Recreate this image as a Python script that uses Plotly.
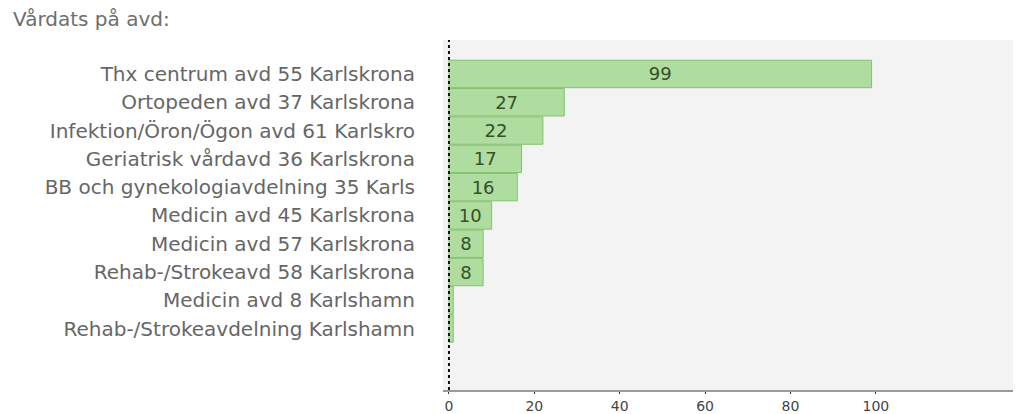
import plotly.graph_objects as go

avdelningar = [
    "Thx centrum avd 55 Karlskrona",
    "Ortopeden avd 37 Karlskrona",
    "Infektion/Öron/Ögon avd 61 Karlskro",
    "Geriatrisk vårdavd 36 Karlskrona",
    "BB och gynekologiavdelning 35 Karls",
    "Medicin avd 45 Karlskrona",
    "Medicin avd 57 Karlskrona",
    "Rehab-/Strokeavd 58 Karlskrona",
    "Medicin avd 8 Karlshamn",
    "Rehab-/Strokeavdelning Karlshamn",
]
antal = [99, 27, 22, 17, 16, 10, 8, 8, 1, 1]
x_ticks = [0, 20, 40, 60, 80, 100]

# small bars (1) carry no label in the original
labels = [str(v) if v >= 5 else "" for v in antal]

fig = go.Figure()
fig.add_trace(go.Bar(
    y=avdelningar, x=antal, orientation="h",
    marker=dict(color="#afdc9f", line=dict(color="#84c070", width=1)),
    text=labels, textposition="inside", insidetextanchor="middle",
    textfont=dict(family="DejaVu Sans", size=18, color="#34512c"),
    constraintext="none",
    width=0.97,
    hoverinfo="skip",
))

# dotted zero line
fig.add_shape(type="line", x0=0, x1=0, yref="paper", y0=0, y1=1,
              line=dict(color="#111111", width=2, dash="dot"))

fig.add_annotation(text="Vårdats på avd:", xref="paper", yref="paper",
                   x=-0.755, y=1.06, xanchor="left", yanchor="middle",
                   showarrow=False, font=dict(size=20, color="#6e6e6e"))

# page body has an 8px margin, so the figure is made 8px smaller
fig.update_layout(
    width=1013, height=406,
    margin=dict(l=435, r=6, t=32, b=24),
    paper_bgcolor="white",
    plot_bgcolor="#f3f3f3",
    showlegend=False,
    font=dict(family="DejaVu Sans", color="#555555"),
    xaxis=dict(range=[-1.4, 132.6], tickvals=x_ticks, showgrid=False,
               zeroline=False, showline=True, linecolor="#9a9a9a", linewidth=2,
               ticks="outside", ticklen=2, tickcolor="#333333",
               tickfont=dict(size=14, color="#444444"), automargin=False),
    yaxis=dict(categoryorder="array", categoryarray=avdelningar,
               range=[11.17, -1.2], showgrid=False, zeroline=False,
               ticks="", ticklabelstandoff=27, automargin=False,
               tickfont=dict(size=20, color="#666666")),
)

fig.write_html("out.html")
